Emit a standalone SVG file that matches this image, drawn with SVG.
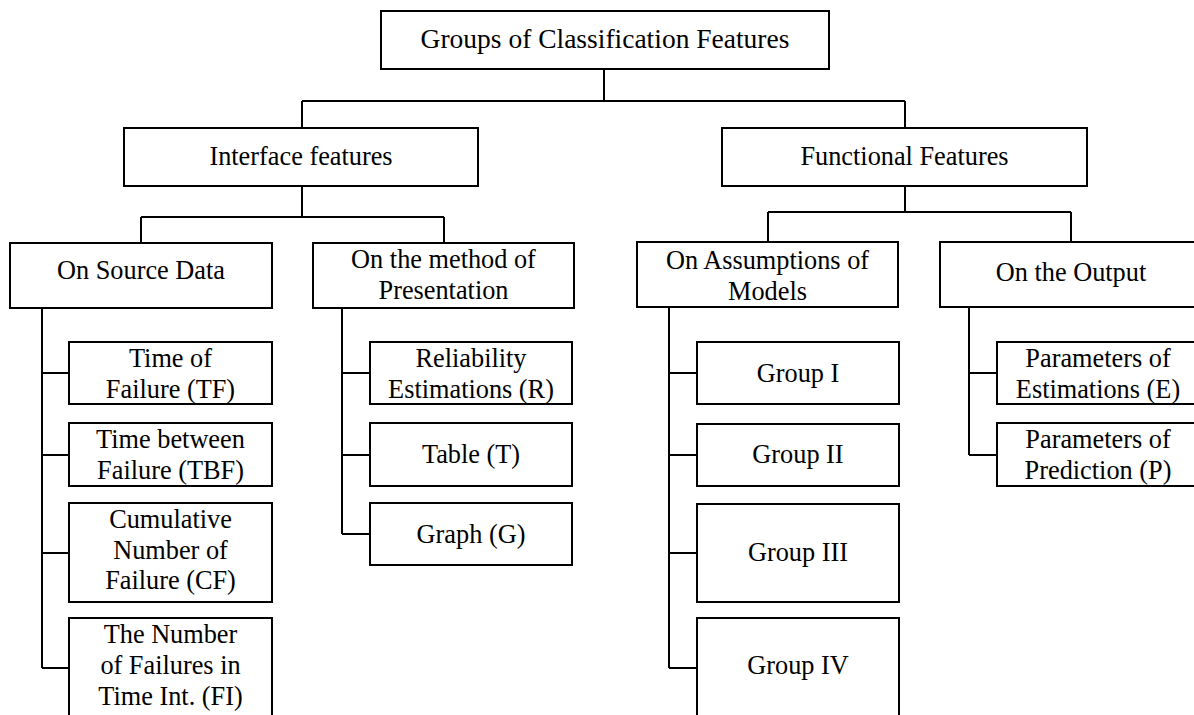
<svg xmlns="http://www.w3.org/2000/svg" width="1194" height="715" viewBox="0 0 1194 715">
<style>
.box{fill:#fff;stroke:#000;stroke-width:2}
.ln{fill:none;stroke:#000;stroke-width:2}
text{font-family:"Liberation Serif","Times New Roman",serif;font-size:26.3px;fill:#000;text-anchor:middle}
.big{font-size:27.5px}
</style>
<rect width="1194" height="715" fill="#fff"/>
<g id="connectors" class="ln">
<path d="M604,69V101M302,101H905M302,101V128M905,101V128"/>
<path d="M302,186V217M141,217H444M141,217V243M444,217V243"/>
<path d="M905,186V212M768,212H1071M768,212V242M1071,212V242"/>
<path d="M42,308V668M42,373H69M42,455H69M42,553H69M42,668H69"/>
<path d="M342,308V534M342,373H370M342,455H370M342,534H370"/>
<path d="M669,307V668M669,373H697M669,455H697M669,553H697M669,668H697"/>
<path d="M969,306V455M969,373H997M969,455H997"/>
</g>
<g id="root"><rect class="box" x="381" y="11" width="448" height="58"/><text class="big" x="605" y="48">Groups of Classification Features</text></g>
<g id="interface"><rect class="box" x="124" y="128" width="354" height="58"/><text x="301" y="165">Interface features</text></g>
<g id="functional"><rect class="box" x="722" y="128" width="365" height="58"/><text x="904.5" y="165">Functional Features</text></g>
<g id="source"><rect class="box" x="10" y="243" width="262" height="65"/><text x="141" y="279">On Source Data</text></g>
<g id="presentation"><rect class="box" x="313" y="243" width="261" height="65"/><text x="443.5" y="268">On the method of</text><text x="443.5" y="299">Presentation</text></g>
<g id="assumptions"><rect class="box" x="637" y="242" width="261" height="65"/><text x="767.5" y="269">On Assumptions of</text><text x="767.5" y="300">Models</text></g>
<g id="output"><rect class="box" x="940" y="242" width="262" height="65"/><text x="1071" y="281">On the Output</text></g>
<g id="tf"><rect class="box" x="69" y="342" width="203" height="62"/><text x="170.5" y="367">Time of</text><text x="170.5" y="398">Failure (TF)</text></g>
<g id="tbf"><rect class="box" x="69" y="423" width="203" height="63"/><text x="170.5" y="448">Time between</text><text x="170.5" y="479">Failure (TBF)</text></g>
<g id="cf"><rect class="box" x="69" y="503" width="203" height="99"/><text x="170.5" y="528">Cumulative</text><text x="170.5" y="558.5">Number of</text><text x="170.5" y="589">Failure (CF)</text></g>
<g id="fi"><rect class="box" x="69" y="618" width="203" height="110"/><text x="170.5" y="643">The Number</text><text x="170.5" y="674">of Failures in</text><text x="170.5" y="705">Time Int. (FI)</text></g>
<g id="r"><rect class="box" x="370" y="342" width="202" height="62"/><text x="471" y="367">Reliability</text><text x="471" y="398">Estimations (R)</text></g>
<g id="t"><rect class="box" x="370" y="423" width="202" height="63"/><text x="471" y="463">Table (T)</text></g>
<g id="g"><rect class="box" x="370" y="503" width="202" height="62"/><text x="471" y="543">Graph (G)</text></g>
<g id="g1"><rect class="box" x="697" y="342" width="202" height="62"/><text x="798" y="382">Group I</text></g>
<g id="g2"><rect class="box" x="697" y="424" width="202" height="62"/><text x="798" y="463">Group II</text></g>
<g id="g3"><rect class="box" x="697" y="504" width="202" height="98"/><text x="798" y="561">Group III</text></g>
<g id="g4"><rect class="box" x="697" y="618" width="202" height="110"/><text x="798" y="674">Group IV</text></g>
<g id="e"><rect class="box" x="997" y="342" width="202" height="62"/><text x="1098" y="367">Parameters of</text><text x="1098" y="398">Estimations (E)</text></g>
<g id="p"><rect class="box" x="997" y="423" width="202" height="63"/><text x="1098" y="448">Parameters of</text><text x="1098" y="479">Prediction (P)</text></g>
</svg>
